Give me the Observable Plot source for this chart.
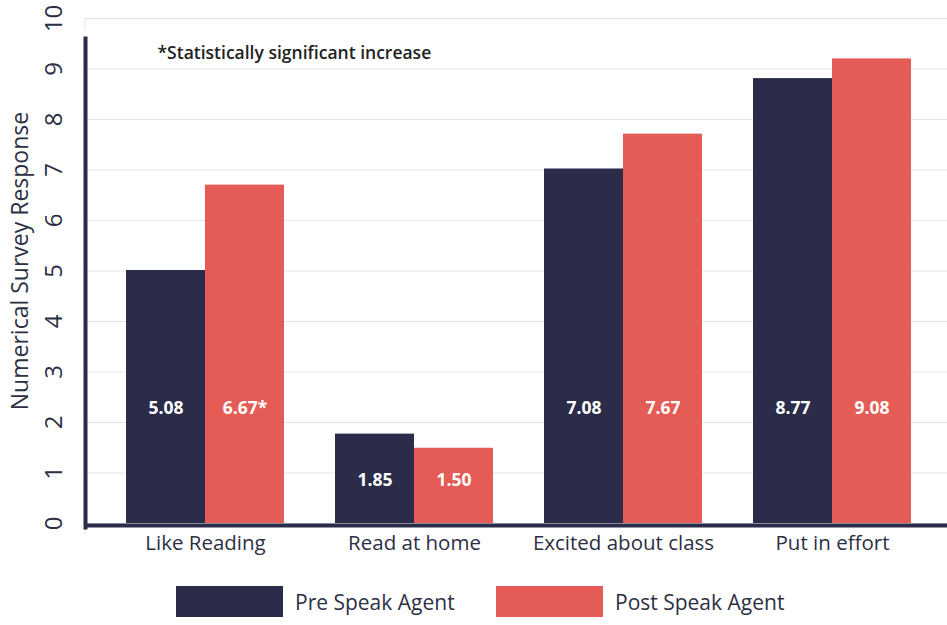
<!DOCTYPE html>
<html>
<head>
<meta charset="utf-8">
<script src="https://cdn.jsdelivr.net/npm/d3@7"></script>
<script src="https://cdn.jsdelivr.net/npm/@observablehq/plot@0.6"></script>
<style>
  html, body { margin: 0; padding: 0; background: #fff; }
  body { width: 947px; height: 625px; overflow: hidden; font-family: "Open Sans", sans-serif; }
  #legend { margin-top: 25px; margin-left: 176px; }
  div.lg-swatches { margin: 0 !important; }
  div.lg-swatches span.lg-swatch { width: 320px; margin-right: 0; }
  div.lg-swatches span.lg-swatch > svg { margin-right: 12px; }
</style>
</head>
<body>
<div id="chart"></div>
<div id="legend"></div>
<script>
const categories = ["Like Reading", "Read at home", "Excited about class", "Put in effort"];
const series = ["Pre Speak Agent", "Post Speak Agent"];
const preValues = [5.01, 1.77, 7.02, 8.81];
const postValues = [6.70, 1.49, 7.71, 9.20];
const preLabels = ["5.08", "1.85", "7.08", "8.77"];
const postLabels = ["6.67*", "1.50", "7.67", "9.08"];
const yTicks = [0, 1, 2, 3, 4, 5, 6, 7, 8, 9, 10];
const colors = ["#2a2c49", "#e45c55"];
const note = "*Statistically significant increase";
const yTitle = "Numerical Survey Response";

const pre = categories.map((c, i) => ({category: c, series: series[0], value: preValues[i], label: preLabels[i], groupMax: Math.max(preValues[i], postValues[i])}));
const post = categories.map((c, i) => ({category: c, series: series[1], value: postValues[i], label: postLabels[i], groupMax: Math.max(preValues[i], postValues[i])}));
const labelY = d => Math.min(2.27, 0.48 * d.groupMax);

const navy = "#2a2c49";
const textColor = "#2d2f44";
const font = "'Open Sans', sans-serif";

const chart = Plot.plot({
  width: 947,
  height: 560,
  marginLeft: 85,
  marginRight: 0,
  marginTop: 18,
  marginBottom: 37,
  style: {fontFamily: font, background: "#fff", color: textColor},
  x: {domain: categories, range: [85, 947], paddingInner: 0.246, paddingOuter: 0.18, align: 0.53, label: null},
  y: {domain: [0, 10], label: null},
  color: {domain: series, range: colors},
  marks: [
    Plot.ruleY(yTicks, {stroke: "#e4e4e8", strokeWidth: 1}),
    Plot.axisY(yTicks, {tickSize: 12, stroke: "#e4e4e8", tickPadding: 19, rotate: -90, textAnchor: "middle", fontSize: 24, fill: textColor, tickFormat: d3.format("d"), label: null}),
    Plot.barY(pre, {x: "category", y: "value", fill: d => d.series, insetRight: 79}),
    Plot.barY(post, {x: "category", y: "value", fill: d => d.series, insetLeft: 79}),
    Plot.text(pre, {x: "category", y: labelY, text: "label", dx: -39.5, fill: "white", fontWeight: "bold", fontSize: 17.5}),
    Plot.text(post, {x: "category", y: labelY, text: "label", dx: 39.5, fill: "white", fontWeight: "bold", fontSize: 17.5}),
    Plot.ruleY([0], {stroke: navy, strokeWidth: 4, dy: 2}),
    Plot.frame({anchor: "left", stroke: navy, strokeWidth: 4, insetTop: 20, insetBottom: -4}),
    Plot.axisX({tickSize: 0, tickPadding: 12, fontSize: 20.5, fill: textColor, label: null}),
    Plot.text([note], {frameAnchor: "top-left", dx: 72, dy: 35, lineAnchor: "middle", textAnchor: "start", fontSize: 17.5, fontWeight: 600, fill: "#222"}),
    Plot.text([yTitle], {frameAnchor: "left", rotate: -90, dx: -65, dy: -10, textAnchor: "middle", fontSize: 23, fill: textColor})
  ]
});
document.getElementById("chart").appendChild(chart);

const legend = Plot.legend({
  color: {domain: series, range: colors},
  legend: "swatches",
  swatchWidth: 107,
  swatchHeight: 31,
  className: "lg",
  style: {fontSize: "21px", fontFamily: font, color: textColor}
});
document.getElementById("legend").appendChild(legend);
</script>
</body>
</html>
